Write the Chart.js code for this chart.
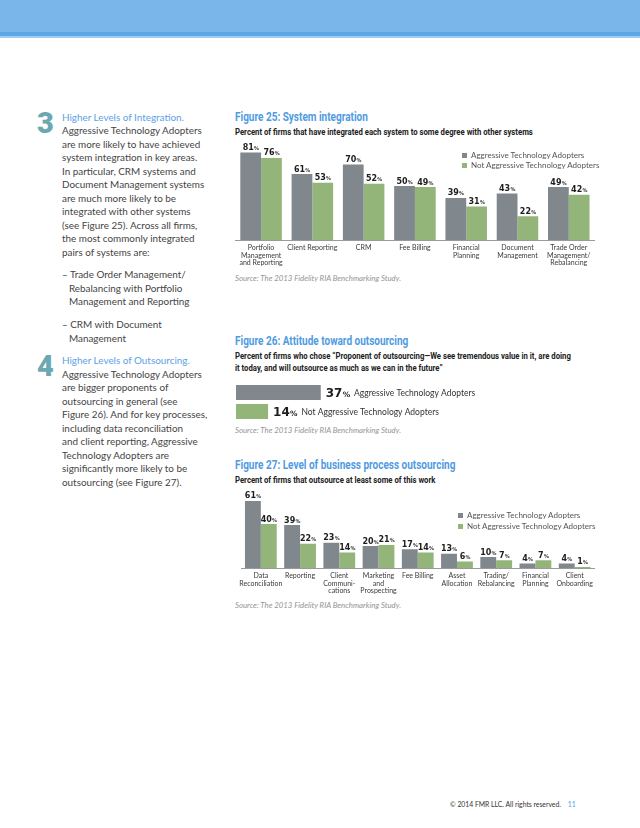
<!DOCTYPE html>
<html>
<head>
<meta charset="utf-8">
<script src="https://cdn.jsdelivr.net/npm/chart.js@4.4.0/dist/chart.umd.min.js"></script>
<style>
body { margin:0; width:640px; height:828px; position:relative; background:#fff; font-family: Lato, "Open Sans", sans-serif; color:#3b3b3b; overflow:hidden; }
.band { position:absolute; left:0; top:0; width:640px; height:32px; background:#7bb6eb; }
.band2 { position:absolute; left:0; top:32px; width:640px; height:4px; background:#5ea7e6; }
.band3 { position:absolute; left:0; top:36px; width:640px; height:1.5px; background:#a3cdf0; }
.num { position:absolute; left:37px; font-family: Roboto, sans-serif; font-weight:900; font-size:29px; color:#6ba8b1; line-height:1; }
.para { position:absolute; left:62px; font-size:9.9px; line-height:13.5px; white-space:nowrap; color:#444; }
.para .ind { padding-left:7px; }
.hl { color:#5aa1e6; }
.title { position:absolute; left:235px; font-family: Roboto, sans-serif; font-weight:bold; color:#4f9be2; font-size:12.5px; transform:scaleX(0.8); transform-origin:left; white-space:nowrap; line-height:14px; }
.sub { position:absolute; left:235px; font-family: Roboto, sans-serif; font-weight:bold; color:#222; font-size:9px; transform:scaleX(0.86); transform-origin:left; white-space:nowrap; line-height:12px; }
.src { position:absolute; left:235px; font-style:italic; font-size:7.8px; color:#949494; white-space:nowrap; line-height:10px; }
.leg { position:absolute; font-size:8px; color:#555; white-space:nowrap; line-height:10px; }
.leg i { display:inline-block; width:5px; height:5px; margin-right:4px; vertical-align:0px; }
.box { position:absolute; }
.foot { position:absolute; left:450px; top:800px; font-size:6.8px; color:#333; white-space:nowrap; }
.foot span { color:#4f9be2; margin-left:7px; }
</style>
</head>
<body>
<div class="band"></div><div class="band2"></div><div class="band3"></div>

<div class="num" style="top:109px">3</div>
<div class="para" style="top:110.5px">
<span class="hl">Higher Levels of Integration.</span><br>
Aggressive Technology Adopters<br>
are more likely to have achieved<br>
system integration in key areas.<br>
In particular, CRM systems and<br>
Document Management systems<br>
are much more likely to be<br>
integrated with other systems<br>
(see Figure 25). Across all firms,<br>
the most commonly integrated<br>
pairs of systems are:
</div>
<div class="para" style="top:268px">
– Trade Order Management/<br>
<span class="ind">Rebalancing with Portfolio</span><br>
<span class="ind">Management and Reporting</span>
</div>
<div class="para" style="top:318px">
– CRM with Document<br>
<span class="ind">Management</span>
</div>
<div class="num" style="top:352px">4</div>
<div class="para" style="top:354px">
<span class="hl">Higher Levels of Outsourcing.</span><br>
Aggressive Technology Adopters<br>
are bigger proponents of<br>
outsourcing in general (see<br>
Figure 26). And for key processes,<br>
including data reconciliation<br>
and client reporting, Aggressive<br>
Technology Adopters are<br>
significantly more likely to be<br>
outsourcing (see Figure 27).
</div>

<div class="title" style="top:110px">Figure 25: System integration</div>
<div class="sub" style="top:126px">Percent of firms that have integrated each system to some degree with other systems</div>
<div class="box" style="left:235px;top:132px"><canvas id="fig25" width="360" height="140"></canvas></div>
<div class="leg" style="left:462px;top:150px"><i style="background:#80878d"></i>Aggressive Technology Adopters</div>
<div class="leg" style="left:462px;top:160px"><i style="background:#94b57a"></i>Not Aggressive Technology Adopters</div>
<div class="src" style="top:273px">Source: The 2013 Fidelity RIA Benchmarking Study.</div>

<div class="title" style="top:334px">Figure 26: Attitude toward outsourcing</div>
<div class="sub" style="top:350px">Percent of firms who chose “Proponent of outsourcing—We see tremendous value in it, are doing<br>it today, and will outsource as much as we can in the future”</div>
<div class="box" style="left:236px;top:382.5px"><canvas id="fig26" width="260" height="38"></canvas></div>
<div class="src" style="top:425px">Source: The 2013 Fidelity RIA Benchmarking Study.</div>

<div class="title" style="top:458px">Figure 27: Level of business process outsourcing</div>
<div class="sub" style="top:474px">Percent of firms that outsource at least some of this work</div>
<div class="box" style="left:235px;top:458px"><canvas id="fig27" width="362" height="142"></canvas></div>
<div class="leg" style="left:458px;top:510px"><i style="background:#80878d"></i>Aggressive Technology Adopters</div>
<div class="leg" style="left:458px;top:521px"><i style="background:#94b57a"></i>Not Aggressive Technology Adopters</div>
<div class="src" style="top:600px">Source: The 2013 Fidelity RIA Benchmarking Study.</div>

<div class="foot">© 2014 FMR LLC. All rights reserved.<span>11</span></div>

<script>
'use strict';

// figure 25
const fig25Labels = [['Portfolio', 'Management', 'and Reporting'], 'Client Reporting', 'CRM', 'Fee Billing',
  ['Financial', 'Planning'], ['Document', 'Management'], ['Trade Order', 'Management/', 'Rebalancing']];
const fig25Aggressive = [81, 61, 70, 50, 39, 43, 49];
const fig25NotAggressive = [76, 53, 52, 49, 31, 22, 42];

// figure 26
const fig26Labels = ['Aggressive Technology Adopters', 'Not Aggressive Technology Adopters'];
const fig26Values = [37, 14];

// figure 27
const fig27Labels = [['Data', 'Reconciliation'], 'Reporting', ['Client', 'Communi-', 'cations'],
  ['Marketing', 'and', 'Prospecting'], 'Fee Billing', ['Asset', 'Allocation'], ['Trading/', 'Rebalancing'],
  ['Financial', 'Planning'], ['Client', 'Onboarding']];
const fig27Aggressive = [61, 39, 23, 20, 17, 13, 10, 4, 4];
const fig27NotAggressive = [40, 22, 14, 21, 14, 6, 7, 7, 1];

const gray = '#80878d';
const green = '#94b57a';

function drawPct(ctx, v, x, y, size, align) {
  let num = String(v);
  let numFont = `bold ${size}px "DejaVu Sans"`;
  let pFont = `bold ${size * 0.62}px "DejaVu Sans"`;
  ctx.save();
  ctx.font = numFont;
  let w1 = ctx.measureText(num).width;
  ctx.font = pFont;
  let w2 = ctx.measureText('%').width;
  let x0 = align === 'center' ? x - (w1 + w2) / 2 : x;
  ctx.fillStyle = '#1e1e1e';
  ctx.textAlign = 'left';
  ctx.textBaseline = 'alphabetic';
  ctx.font = numFont;
  ctx.fillText(num, x0, y);
  ctx.font = pFont;
  ctx.fillText('%', x0 + w1 + 0.2, y);
  ctx.restore();
  return x0 + w1 + w2 + 0.2;
}

const columnLabels = {
  id: 'columnLabels',
  afterDatasetsDraw(chart) {
    chart.data.datasets.forEach((ds, i) => {
      chart.getDatasetMeta(i).data.forEach((bar, j) => {
        drawPct(chart.ctx, ds.data[j], bar.x, bar.y - 2.5, 8, 'center');
      });
    });
  }
};

const rowLabels = {
  id: 'rowLabels',
  afterDatasetsDraw(chart) {
    let ctx = chart.ctx;
    chart.getDatasetMeta(0).data.forEach((bar, j) => {
      let end = drawPct(ctx, fig26Values[j], bar.x + 5, bar.y + 4.5, 12, 'left');
      ctx.save();
      ctx.font = '8.5px Lato';
      ctx.fillStyle = '#333';
      ctx.textBaseline = 'alphabetic';
      ctx.fillText(chart.data.labels[j], end + 4, bar.y + 3.5);
      ctx.restore();
    });
  }
};

function columnChart(id, labels, a, b, pct) {
  return new Chart(document.getElementById(id), {
    type: 'bar',
    data: {
      labels: labels,
      datasets: [
        { data: a, backgroundColor: gray, categoryPercentage: pct, barPercentage: 1 },
        { data: b, backgroundColor: green, categoryPercentage: pct, barPercentage: 1 }
      ]
    },
    options: {
      responsive: false,
      animation: false,
      layout: { padding: 0 },
      plugins: { legend: { display: false }, tooltip: { enabled: false } },
      scales: {
        y: { display: false, min: 0, max: 100 },
        x: {
          grid: { display: false, drawTicks: false },
          border: { display: true, color: '#9a9a9a', width: 1 },
          ticks: { autoSkip: false, maxRotation: 0, padding: 4.5, color: '#3a3a3a',
            font: { family: 'Lato', size: 7, lineHeight: 1.05 } },
          afterFit: s => { s.height = 32; }
        }
      }
    },
    plugins: [columnLabels]
  });
}

columnChart('fig25', fig25Labels, fig25Aggressive, fig25NotAggressive, 0.81);
columnChart('fig27', fig27Labels, fig27Aggressive, fig27NotAggressive, 0.81);

new Chart(document.getElementById('fig26'), {
  type: 'bar',
  data: {
    labels: fig26Labels,
    datasets: [{ data: fig26Values, backgroundColor: [gray, green], categoryPercentage: 1, barPercentage: 0.79 }]
  },
  options: {
    indexAxis: 'y',
    responsive: false,
    animation: false,
    layout: { padding: 0 },
    plugins: { legend: { display: false }, tooltip: { enabled: false } },
    scales: {
      x: { display: false, min: 0, max: 113.5 },
      y: { display: false }
    }
  },
  plugins: [rowLabels]
});
</script>
</body>
</html>
